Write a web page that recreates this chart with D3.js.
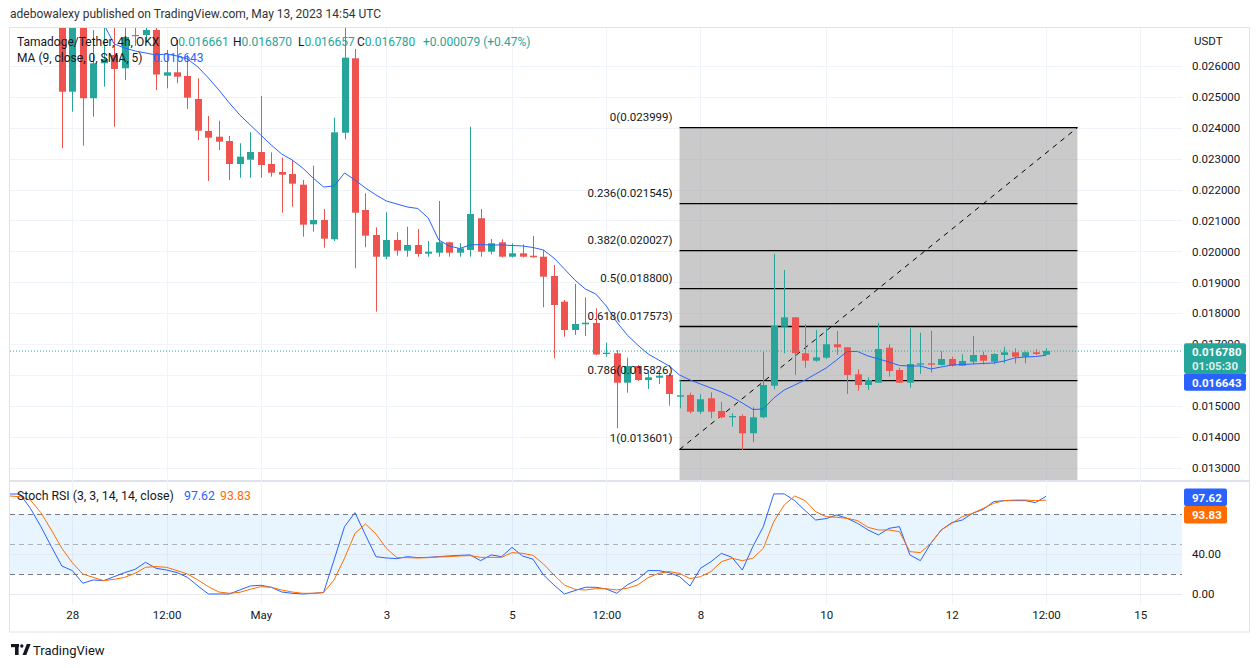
<!DOCTYPE html>
<html><head><meta charset="utf-8">
<script src="https://cdn.jsdelivr.net/npm/d3@7"></script>
<style>
body{margin:0;background:#fff;}
svg{display:block;font-family:Roboto,"Liberation Sans",sans-serif;}
</style>
</head><body>
<svg id="chart" width="1260" height="668"></svg>
<script>
// ---------- DATA ----------
const candleStart = -1; // bar index of first candle (0 = Apr 28 00:00, 4h bars)
const opens = [0.027477,0.025160,0.027477,0.024947,0.026078,0.026346,0.025916,0.026992,0.026992,0.027154,
0.025677,0.025787,0.025667,0.024924,0.023890,0.023706,0.023567,0.022824,0.022963,0.023212,
0.022824,0.022566,0.022501,0.022155,0.020876,0.021015,0.020391,0.023835,0.026239,0.021338,
0.020530,0.019829,0.020369,0.020023,0.020207,0.019926,0.019958,0.020294,0.019958,0.020045,
0.021070,0.019991,0.020294,0.019829,0.019939,0.019861,0.019829,0.019205,0.018375,0.017461,
0.017645,0.017687,0.016685,0.016708,0.015758,0.016298,0.015845,0.015919,0.016007,0.015306,
0.015361,0.014821,0.015254,0.014844,0.014640,0.014682,0.014123,0.014640,0.015661,0.017567,
0.017871,0.016708,0.016469,0.016566,0.016999,0.016902,0.016029,0.015684,0.015758,0.016889,
0.016168,0.015758,0.016339,0.016384,0.016330,0.016524,0.016307,0.016436,0.016653,0.016436,
0.016653,0.016740,0.016598,0.016740,0.016661];
const highs = [0.027800,0.027800,0.027800,0.027154,0.027283,0.027218,0.027283,0.027218,0.027283,0.027283,
0.026507,0.026831,0.026346,0.025593,0.024375,0.024223,0.023729,0.023493,0.023848,0.025021,
0.023202,0.023028,0.022953,0.022307,0.022769,0.021370,0.024320,0.027234,0.026540,0.021877,
0.020779,0.021264,0.020617,0.020798,0.020724,0.020336,0.021629,0.020314,0.020262,0.024029,
0.021370,0.020401,0.020391,0.020262,0.020230,0.020498,0.020045,0.019561,0.018430,0.018947,
0.018517,0.018162,0.017050,0.016814,0.016566,0.016330,0.016081,0.016136,0.016062,0.015829,
0.015435,0.015383,0.015448,0.015144,0.014769,0.014737,0.014963,0.016760,0.019916,0.019399,
0.017871,0.017645,0.017461,0.017516,0.017428,0.016902,0.016191,0.015932,0.017697,0.016999,
0.016243,0.017516,0.017373,0.017438,0.016782,0.016598,0.016676,0.017267,0.016760,0.016708,
0.016921,0.016869,0.016760,0.016837,0.016870];
const lows = [0.023331,0.024514,0.023415,0.024352,0.025322,0.024029,0.025538,0.026637,0.026766,0.025215,
0.025270,0.025432,0.024601,0.023600,0.022275,0.023276,0.022307,0.022382,0.022382,0.022382,
0.022414,0.021251,0.021445,0.020475,0.020637,0.020120,0.020336,0.023622,0.019454,0.020133,
0.018052,0.019745,0.019861,0.019829,0.019829,0.019829,0.019829,0.019829,0.019829,0.019829,
0.019829,0.019906,0.019803,0.019803,0.019803,0.019797,0.018194,0.016546,0.017244,0.017299,
0.017267,0.016653,0.016598,0.014284,0.015435,0.015813,0.015554,0.015716,0.015015,0.014931,
0.014769,0.014747,0.014608,0.014608,0.014336,0.013583,0.013832,0.014608,0.015545,0.016708,
0.016007,0.016243,0.016436,0.016524,0.016653,0.015393,0.015499,0.015522,0.015758,0.015952,
0.015748,0.015596,0.016039,0.016081,0.016313,0.016275,0.016298,0.016352,0.016352,0.016352,
0.016384,0.016384,0.016384,0.016653,0.016657];
const closes = [0.025160,0.027477,0.024947,0.026078,0.026217,0.025894,0.026928,0.026960,0.027154,0.025716,
0.025787,0.025645,0.024966,0.023900,0.023674,0.023545,0.022824,0.023060,0.023212,0.022792,
0.022543,0.022478,0.022188,0.020863,0.021015,0.020411,0.023848,0.026259,0.021251,0.020508,
0.019829,0.020369,0.020023,0.020207,0.019916,0.019991,0.020294,0.019958,0.020100,0.021209,
0.019991,0.020262,0.019829,0.019939,0.019829,0.019810,0.019183,0.018268,0.017461,0.017655,
0.017697,0.016669,0.016727,0.015758,0.016298,0.015845,0.015932,0.015984,0.015393,0.015351,
0.014821,0.015222,0.014821,0.014640,0.014682,0.014123,0.014640,0.015684,0.017590,0.017871,
0.016708,0.016469,0.016578,0.016999,0.016902,0.016007,0.015684,0.015845,0.016847,0.016136,
0.015758,0.016362,0.016384,0.016339,0.016524,0.016307,0.016459,0.016653,0.016469,0.016685,
0.016740,0.016598,0.016740,0.016685,0.016780];

const maStart = 3;
const maValues = [0.027347,0.026701,0.026572,0.026475,0.026411,0.026346,0.026378,0.026314,0.026217,0.025958,
0.025603,0.025215,0.024795,0.024407,0.024084,0.023761,0.023438,0.023147,0.022953,0.022695,
0.022372,0.022081,0.022113,0.022533,0.022307,0.022049,0.021823,0.021629,0.021532,0.021435,
0.021386,0.021079,0.020369,0.020175,0.020094,0.020207,0.020223,0.020207,0.020207,0.020191,
0.020175,0.020126,0.020045,0.019787,0.019432,0.019076,0.018785,0.018624,0.018236,0.017719,
0.017299,0.016976,0.016685,0.016491,0.016298,0.016007,0.015845,0.015716,0.015587,0.015457,
0.015296,0.015102,0.014892,0.014908,0.015264,0.015522,0.015684,0.015845,0.016039,0.016233,
0.016491,0.016766,0.016766,0.016621,0.016524,0.016427,0.016314,0.016298,0.016298,0.016201,
0.016265,0.016330,0.016346,0.016362,0.016378,0.016394,0.016459,0.016556,0.016588,0.016604,
0.016643];

const stochStart = -6;
const stochK = [99.9,99.9,85.6,67.4,47.5,28.2,23.6,11.0,14.3,13.6,
17.6,21.6,24.9,31.9,25.9,24.2,21.6,16.9,8.3,0.3,
0.3,0.3,4.3,8.3,9.0,7.0,2.3,1.0,0.3,1.0,
1.7,34.2,67.4,81.3,59.1,37.5,36.2,35.5,37.5,36.5,
36.8,37.5,38.2,38.8,39.2,33.5,39.2,37.5,46.8,38.2,
35.0,19.3,9.3,0.3,3.7,7.0,7.0,5.3,1.0,9.3,
14.9,23.6,23.6,21.6,17.6,8.3,25.9,32.5,40.8,36.8,
24.2,47.5,67.4,100,100,93.3,83.3,74.0,75.4,79.0,
75.7,70.7,64.1,59.1,65.7,67.4,39.2,33.5,50.8,64.1,
71.4,74.0,80.7,84.6,92.3,93.3,93.3,93.3,91.3,97.62];
const stochD = [97.9,97.3,93.9,81.3,64.1,45.8,31.5,20.2,16.9,13.6,
14.9,16.9,20.9,26.9,27.6,26.9,23.6,20.2,14.3,7.6,
2.3,1.0,2.0,5.0,7.6,7.0,4.3,2.3,1.0,1.0,
1.7,14.3,35.9,60.7,70.0,60.1,45.8,36.5,36.5,36.2,
36.5,37.2,37.5,38.2,38.5,36.8,36.8,36.8,41.5,40.8,
38.8,30.2,19.3,9.3,5.0,4.3,5.6,5.6,4.3,6.0,
9.3,16.6,20.9,22.6,20.9,15.6,17.6,22.6,32.5,35.9,
33.5,35.9,45.8,72.4,89.0,97.9,93.3,82.3,77.3,76.7,
75.7,73.4,66.7,64.1,64.1,62.4,42.5,41.5,50.8,64.1,
70.7,77.3,80.7,85.6,90.6,93.3,93.9,93.9,93.3,93.83];

const timeTickIdx = [0,9,18,30,42,51,60,72,84,93,102];
const timeTickLabels = ["28","12:00","May","3","5","12:00","8","10","12","12:00","15"];
const priceTicks = [0.013,0.014,0.015,0.016,0.017,0.018,0.019,0.020,0.021,0.022,0.023,0.024,0.025,0.026];
const priceTickLabels = [0.013,0.014,0.015,0.017,0.018,0.019,0.020,0.021,0.022,0.023,0.024,0.025,0.026];
const stochTicks = [0,40];
const fibRatios = ["0","0.236","0.382","0.5","0.618","0.786","1"];
const fibPrices = [0.023999,0.021545,0.020027,0.018800,0.017573,0.015826,0.013601];
const fibStartIdx = 58, fibEndIdx = 96;
const lastPrice = 0.016780, maLast = 0.016643, kLast = 97.62, dLast = 93.83;

// ---------- LAYOUT ----------
const GREEN = "#26a69a", RED = "#ef5350", BLUE = "#2962ff", ORANGE = "#ff6d00";
const TEXT = "#131722", GRID = "#f0f3fa", BORDER = "#e0e3eb";
const L = 10, R = 1182, PT = 28, PB = 480, ST = 483, SB = 604;
const FONT = "Roboto,'Liberation Sans',sans-serif";

const svg = d3.select("#chart");
const x = d3.scaleLinear().domain([0, 93]).range([72.3, 1046.0]);
const y = d3.scaleLinear().domain([0.013, 0.026]).range([468.05, 65.7]);
const ys = d3.scaleLinear().domain([0, 100]).range([594.3, 493.9]);

const defs = svg.append("defs");
defs.append("clipPath").attr("id","cp").append("rect").attr("x",L).attr("y",PT).attr("width",R-L).attr("height",PB-PT);
defs.append("clipPath").attr("id","cs").append("rect").attr("x",L).attr("y",ST).attr("width",R-L).attr("height",SB-ST);

// header
svg.append("text").attr("x",10).attr("y",18).attr("font-size",12).attr("fill","#333")
  .text("adebowalexy published on TradingView.com, May 13, 2023 14:54 UTC");

// frame
svg.append("rect").attr("x",L-0.5).attr("y",27.5).attr("width",1250-L).attr("height",632-27.5)
  .attr("fill","none").attr("stroke",BORDER);
svg.append("line").attr("x1",L).attr("x2",1250).attr("y1",481).attr("y2",481).attr("stroke",BORDER).attr("stroke-width",2);

// grid
const g = svg.append("g");
g.selectAll(".vg").data(timeTickIdx).join("line")
  .attr("x1",d=>Math.round(x(d))+0.5).attr("x2",d=>Math.round(x(d))+0.5)
  .attr("y1",PT).attr("y2",SB).attr("stroke",GRID);
g.selectAll(".hg").data(priceTicks).join("line")
  .attr("x1",L).attr("x2",R).attr("y1",d=>Math.round(y(d))+0.5).attr("y2",d=>Math.round(y(d))+0.5).attr("stroke",GRID);

// price pane
const pp = svg.append("g").attr("clip-path","url(#cp)");
pp.append("rect").attr("x",x(fibStartIdx)).attr("y",y(fibPrices[0]))
  .attr("width",x(fibEndIdx)-x(fibStartIdx)).attr("height",PB-y(fibPrices[0]))
  .attr("fill","rgb(150,150,150)").attr("fill-opacity",0.5);
pp.selectAll(".fl").data(fibPrices).join("line")
  .attr("x1",x(fibStartIdx)).attr("x2",x(fibEndIdx))
  .attr("y1",d=>y(d)).attr("y2",d=>y(d)).attr("stroke","#000").attr("stroke-width",1.3);
pp.append("line").attr("x1",x(fibStartIdx)).attr("y1",y(fibPrices[6]))
  .attr("x2",x(fibEndIdx)).attr("y2",y(fibPrices[0]))
  .attr("stroke","#000").attr("stroke-width",1).attr("stroke-dasharray","5,5");

const candles = opens.map((o,k)=>({i:candleStart+k,o,h:highs[k],l:lows[k],c:closes[k]}));
const cg = pp.append("g");
cg.selectAll(".w").data(candles).join("line")
  .attr("x1",d=>Math.round(x(d.i))+0.5).attr("x2",d=>Math.round(x(d.i))+0.5)
  .attr("y1",d=>y(d.h)).attr("y2",d=>y(d.l))
  .attr("stroke",d=>d.c>=d.o?GREEN:RED).attr("stroke-width",1);
cg.selectAll(".b").data(candles).join("rect")
  .attr("x",d=>Math.round(x(d.i))-3).attr("width",7)
  .attr("y",d=>y(Math.max(d.o,d.c))).attr("height",d=>Math.max(1.2,Math.abs(y(d.o)-y(d.c))))
  .attr("fill",d=>d.c>=d.o?GREEN:RED);

pp.append("path").datum(maValues.map((v,k)=>[maStart+k,v]))
  .attr("d",d3.line().x(d=>x(d[0])).y(d=>y(d[1])))
  .attr("fill","none").attr("stroke",BLUE).attr("stroke-width",1);

svg.append("line").attr("x1",L).attr("x2",R).attr("y1",y(lastPrice)).attr("y2",y(lastPrice))
  .attr("stroke",GREEN).attr("stroke-width",1).attr("stroke-dasharray","1,2");

svg.selectAll(".fibt").data(fibPrices).join("text")
  .attr("x",x(fibStartIdx)-7).attr("y",d=>y(d)-7).attr("text-anchor","end")
  .attr("font-size",11.5).attr("fill",TEXT)
  .text((d,k)=>fibRatios[k]+"("+d.toFixed(6)+")");

// stoch pane
const sp = svg.append("g").attr("clip-path","url(#cs)");
sp.append("rect").attr("x",L).attr("width",R-L).attr("y",ys(80)).attr("height",ys(20)-ys(80))
  .attr("fill","rgba(33,150,243,0.1)");
sp.selectAll(".sg").data(stochTicks).join("line")
  .attr("x1",L).attr("x2",R).attr("y1",d=>Math.round(ys(d))+0.5).attr("y2",d=>Math.round(ys(d))+0.5).attr("stroke","#e6e9f0");
sp.selectAll(".band").data([80,50,20]).join("line")
  .attr("x1",L).attr("x2",R).attr("y1",d=>Math.round(ys(d))+0.5).attr("y2",d=>Math.round(ys(d))+0.5)
  .attr("stroke",d=>d===50?"rgba(120,123,134,0.55)":"#787b86").attr("stroke-dasharray","5,4");
const sl = d3.line().x(d=>x(d[0])).y(d=>ys(d[1]));
sp.append("path").datum(stochK.map((v,k)=>[stochStart+k,v])).attr("d",sl)
  .attr("fill","none").attr("stroke",BLUE).attr("stroke-width",1);
sp.append("path").datum(stochD.map((v,k)=>[stochStart+k,v])).attr("d",sl)
  .attr("fill","none").attr("stroke",ORANGE).attr("stroke-width",1);

// axes
const pa = svg.append("g").attr("transform","translate(1192,0)")
  .call(d3.axisRight(y).tickValues(priceTickLabels).tickSize(0).tickPadding(0).tickFormat(d3.format(".6f")));
const sa = svg.append("g").attr("transform","translate(1192,0)")
  .call(d3.axisRight(ys).tickValues(stochTicks).tickSize(0).tickPadding(0).tickFormat(d3.format(".2f")));
const ta = svg.append("g").attr("transform","translate(0,611)")
  .call(d3.axisBottom(x).tickValues(timeTickIdx).tickSize(0).tickPadding(0).tickFormat((d,k)=>timeTickLabels[k]));
[pa,sa,ta].forEach(a=>{a.select(".domain").remove();
  a.selectAll("text").attr("font-size",11.5).attr("fill",TEXT).attr("font-family",FONT);});
svg.append("text").attr("x",1194).attr("y",45).attr("font-size",11.5).attr("fill",TEXT).text("USDT");

// price labels
function box(y0,y1,fill,w){svg.append("rect").attr("x",1184).attr("y",y0).attr("width",w).attr("height",y1-y0).attr("rx",2).attr("fill",fill);}
box(343.3,373.3,GREEN,62);
svg.append("text").attr("x",1192).attr("y",356).attr("font-size",11.5).attr("font-weight","bold").attr("fill","#fff").text(d3.format(".6f")(lastPrice));
svg.append("text").attr("x",1192).attr("y",370).attr("font-size",11.5).attr("font-weight","bold").attr("fill","rgba(255,255,255,0.85)").text("01:05:30");
box(373.3,390.7,BLUE,62);
svg.append("text").attr("x",1192).attr("y",386.5).attr("font-size",11.5).attr("font-weight","bold").attr("fill","#fff").text(d3.format(".6f")(maLast));
box(488.5,506,BLUE,43);
svg.append("text").attr("x",1192).attr("y",501.5).attr("font-size",11.5).attr("font-weight","bold").attr("fill","#fff").text(kLast.toFixed(2));
box(506,523.5,ORANGE,43);
svg.append("text").attr("x",1192).attr("y",519).attr("font-size",11.5).attr("font-weight","bold").attr("fill","#fff").text(dLast.toFixed(2));

// legends
const lg = svg.append("text").attr("y",46).attr("font-size",12).attr("fill",TEXT);
lg.append("tspan").attr("x",17).text("Tamadoge/Tether, 4h, OKX");
[["O",170,"0.016661"],["H",233,"0.016870"],["L",298,"0.016657"],["C",357,"0.016780"]].forEach(([k,px,v])=>{
  lg.append("tspan").attr("x",px).attr("fill",TEXT).text(k);
  lg.append("tspan").attr("fill",GREEN).text(v);
});
lg.append("tspan").attr("x",423).attr("fill",GREEN).text("+0.000079 (+0.47%)");
const lm = svg.append("text").attr("y",62).attr("font-size",12).attr("fill",TEXT);
lm.append("tspan").attr("x",17).text("MA (9, close, 0, SMA, 5)");
lm.append("tspan").attr("x",153).attr("fill",BLUE).text(d3.format(".6f")(maLast));
const ls = svg.append("text").attr("y",500).attr("font-size",12.3).attr("fill",TEXT);
ls.append("tspan").attr("x",17).text("Stoch RSI (3, 3, 14, 14, close)");
ls.append("tspan").attr("x",184).attr("fill",BLUE).text(kLast.toFixed(2));
ls.append("tspan").attr("x",220).attr("fill",ORANGE).text(dLast.toFixed(2));

// TradingView logo
const lgo = svg.append("g").attr("fill",TEXT);
lgo.append("rect").attr("x",11).attr("y",644).attr("width",8).attr("height",3.2);
lgo.append("rect").attr("x",15).attr("y",644).attr("width",3.6).attr("height",11);
lgo.append("circle").attr("cx",21.8).attr("cy",646).attr("r",1.7);
lgo.append("path").attr("d","M22.5,655 L26.8,644 L30.6,644 L26.3,655 Z");
svg.append("text").attr("x",33).attr("y",655).attr("font-size",13).attr("fill",TEXT).text("TradingView");
</script>
</body></html>
